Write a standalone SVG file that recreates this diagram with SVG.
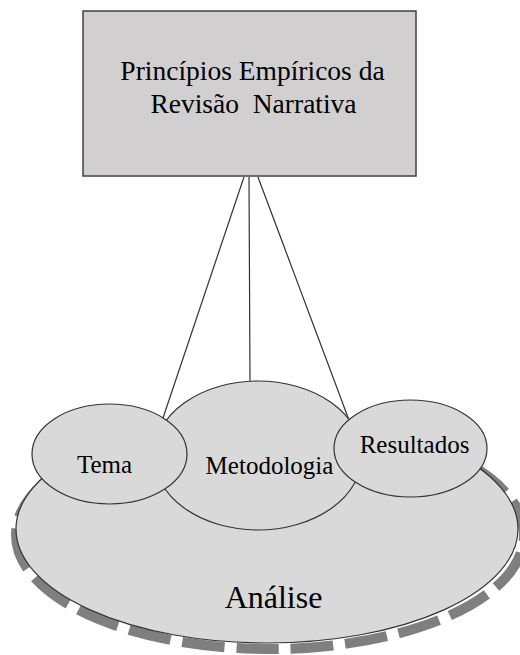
<svg xmlns="http://www.w3.org/2000/svg" width="520" height="655" viewBox="0 0 520 655">
  <style>
    text { fill: #000; text-anchor: middle; white-space: pre; font-family: "Liberation Serif", "DejaVu Serif", serif; }
    .node { fill: #d9d9d9; stroke: #333; stroke-width: 1.2; }
    .link { stroke: #333; stroke-width: 1.2; fill: none; }
  </style>
  <rect width="520" height="655" fill="#fff"/>
  <g id="analise">
    <ellipse cx="270" cy="535" rx="254" ry="114" fill="none" stroke="#7f7f7f" stroke-width="10" pathLength="1210" stroke-dasharray="43 12" stroke-dashoffset="36.5"/>
    <ellipse class="node" cx="267" cy="529" rx="251" ry="114"/>
    <text x="273.5" y="608" font-size="32">Análise</text>
  </g>
  <g id="connectors">
    <line class="link" x1="244" y1="177" x2="163" y2="418"/>
    <line class="link" x1="249" y1="177" x2="250" y2="381"/>
    <line class="link" x1="258" y1="177" x2="349" y2="420"/>
  </g>
  <g id="titulo">
    <rect x="83" y="11" width="333" height="165" fill="#d1cfd0" stroke="#404040" stroke-width="1.5"/>
    <text x="252.5" y="80" font-size="27.5">Princípios Empíricos da</text>
    <text x="253.5" y="113" font-size="27.5">Revisão  Narrativa</text>
  </g>
  <g id="metodologia">
    <ellipse class="node" cx="258" cy="455.5" rx="104" ry="74.5"/>
    <text x="269.5" y="474" font-size="25">Metodologia</text>
  </g>
  <g id="tema">
    <ellipse class="node" cx="109.5" cy="454" rx="77.5" ry="50"/>
    <text x="104.5" y="473" font-size="25">Tema</text>
  </g>
  <g id="resultados">
    <ellipse class="node" cx="410.5" cy="448.5" rx="76.5" ry="48.5"/>
    <text x="414.5" y="453" font-size="25">Resultados</text>
  </g>
</svg>
